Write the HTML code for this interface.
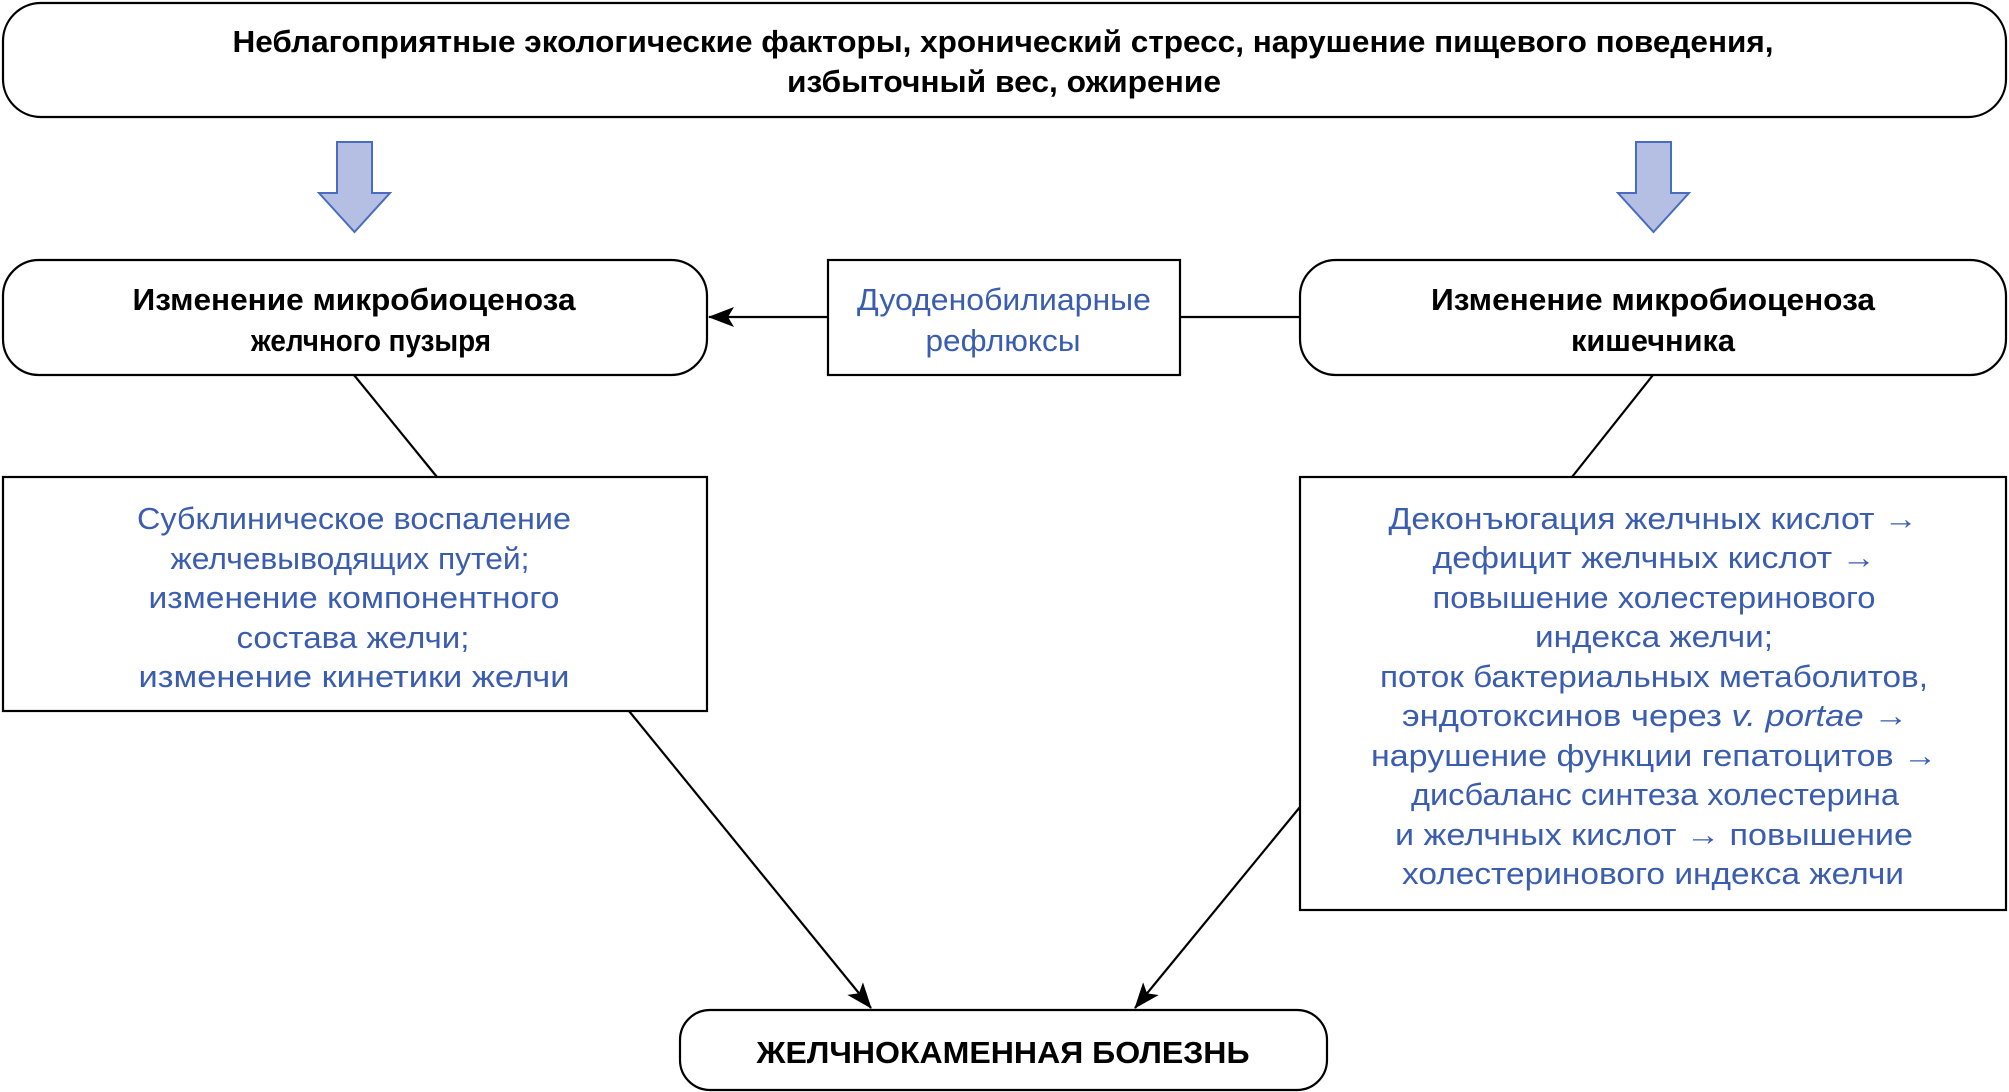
<!DOCTYPE html>
<html><head><meta charset="utf-8"><style>
html,body{margin:0;padding:0;background:#fff;}
svg{display:block;}
text{font-family:"Liberation Sans Narrow","Liberation Sans",sans-serif;font-size:31px;text-anchor:middle;}
.b{font-weight:bold;fill:#000;}
.u{fill:#3a5db0;}
</style></head><body>
<svg width="2009" height="1092" viewBox="0 0 2009 1092" xmlns="http://www.w3.org/2000/svg">
<defs>
<marker id="ah" markerWidth="12" markerHeight="10" refX="11" refY="5" orient="auto" markerUnits="userSpaceOnUse" viewBox="0 0 12 10">
<path d="M0,0 L12,5 L0,10 L3,5 Z" fill="#000" transform="scale(1)"/>
</marker>
<marker id="ah2" markerWidth="26" markerHeight="20" refX="25" refY="10" orient="auto" markerUnits="userSpaceOnUse">
<path d="M0,0 L26,10 L0,20 L6,10 Z" fill="#000"/>
</marker>
</defs>
<g fill="none" stroke="#000" stroke-width="2.2">
<rect x="3" y="3" width="2003" height="114" rx="38"/>
<rect x="3" y="260" width="704" height="115" rx="36"/>
<rect x="828" y="260" width="352" height="115"/>
<rect x="1300" y="260" width="706" height="115" rx="36"/>
<rect x="3" y="477" width="704" height="234"/>
<rect x="1300" y="477" width="706" height="433"/>
<rect x="680" y="1010" width="647" height="80" rx="30"/>
<line x1="828" y1="317" x2="709" y2="317" marker-end="url(#ah2)"/>
<line x1="1180" y1="317" x2="1300" y2="317"/>
<line x1="354" y1="375" x2="437" y2="477"/>
<line x1="1653" y1="375" x2="1572" y2="477"/>
<line x1="629" y1="711" x2="871" y2="1008" marker-end="url(#ah2)"/>
<line x1="1300" y1="807" x2="1135" y2="1008" marker-end="url(#ah2)"/>
</g>
<g fill="#b4bfe3" stroke="#4a6cc0" stroke-width="2">
<path d="M337,142 H372 V193 H390 L354.5,232 L319,193 H337 Z"/>
<path d="M1636,142 H1671 V193 H1689 L1653.5,232 L1618,193 H1636 Z"/>
</g>
<text class="b" x="1003" y="52" textLength="1541" lengthAdjust="spacingAndGlyphs">Неблагоприятные экологические факторы, хронический стресс, нарушение пищевого поведения,</text>
<text class="b" x="1004" y="92" textLength="434" lengthAdjust="spacingAndGlyphs">избыточный вес, ожирение</text>
<text class="b" x="354" y="310" textLength="443" lengthAdjust="spacingAndGlyphs">Изменение микробиоценоза</text>
<text class="b" x="371" y="351" textLength="240" lengthAdjust="spacingAndGlyphs">желчного пузыря</text>
<text class="b" x="1653" y="310" textLength="444" lengthAdjust="spacingAndGlyphs">Изменение микробиоценоза</text>
<text class="b" x="1653" y="351" textLength="164" lengthAdjust="spacingAndGlyphs">кишечника</text>
<text class="u" x="1004" y="310" textLength="294" lengthAdjust="spacingAndGlyphs">Дуоденобилиарные</text>
<text class="u" x="1003" y="351" textLength="155" lengthAdjust="spacingAndGlyphs">рефлюксы</text>
<text class="u" x="354" y="529" textLength="434" lengthAdjust="spacingAndGlyphs">Субклиническое воспаление</text>
<text class="u" x="350" y="569" textLength="359" lengthAdjust="spacingAndGlyphs">желчевыводящих путей;</text>
<text class="u" x="354" y="608" textLength="411" lengthAdjust="spacingAndGlyphs">изменение компонентного</text>
<text class="u" x="353" y="648" textLength="233" lengthAdjust="spacingAndGlyphs">состава желчи;</text>
<text class="u" x="354" y="687" textLength="431" lengthAdjust="spacingAndGlyphs">изменение кинетики желчи</text>
<g class="u">
<text class="u" x="1653" y="529" textLength="529" lengthAdjust="spacingAndGlyphs">Деконъюгация желчных кислот →</text>
<text class="u" x="1654" y="568" textLength="443" lengthAdjust="spacingAndGlyphs">дефицит желчных кислот →</text>
<text class="u" x="1654" y="608" textLength="443" lengthAdjust="spacingAndGlyphs">повышение холестеринового</text>
<text class="u" x="1654" y="647" textLength="238" lengthAdjust="spacingAndGlyphs">индекса желчи;</text>
<text class="u" x="1654" y="687" textLength="548" lengthAdjust="spacingAndGlyphs">поток бактериальных метаболитов,</text>
<text class="u" x="1655" y="726" textLength="506" lengthAdjust="spacingAndGlyphs">эндотоксинов через <tspan font-style="italic">v. portae</tspan> →</text>
<text class="u" x="1654" y="766" textLength="566" lengthAdjust="spacingAndGlyphs">нарушение функции гепатоцитов →</text>
<text class="u" x="1655" y="805" textLength="488" lengthAdjust="spacingAndGlyphs">дисбаланс синтеза холестерина</text>
<text class="u" x="1654" y="845" textLength="518" lengthAdjust="spacingAndGlyphs">и желчных кислот → повышение</text>
<text class="u" x="1653" y="884" textLength="502" lengthAdjust="spacingAndGlyphs">холестеринового индекса желчи</text>
</g>
<text class="b" x="1003" y="1063" textLength="493" lengthAdjust="spacingAndGlyphs">ЖЕЛЧНОКАМЕННАЯ БОЛЕЗНЬ</text>
</svg>
</body></html>
